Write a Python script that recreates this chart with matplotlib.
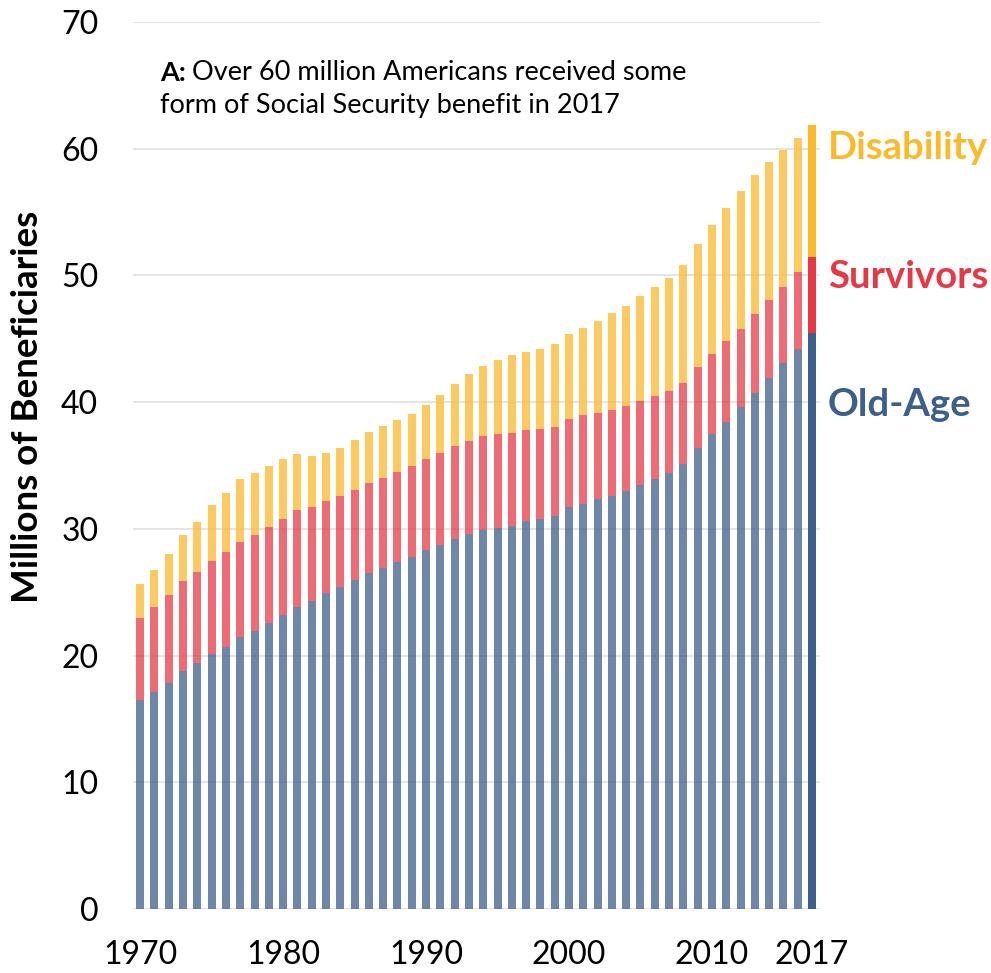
import matplotlib
matplotlib.use("Agg")
import matplotlib.pyplot as plt
import numpy as np

years = list(range(1970, 2018))

# Stacked tops (millions)
old_age = [16.5, 17.15, 17.8, 18.75, 19.4, 20.1, 20.65, 21.45, 21.95, 22.6,
           23.2, 23.8, 24.3, 24.9, 25.4, 25.95, 26.5, 26.95, 27.35, 27.8,
           28.3, 28.75, 29.2, 29.6, 29.9, 30.1, 30.25, 30.6, 30.75, 31.0,
           31.7, 32.0, 32.35, 32.6, 32.95, 33.45, 33.9, 34.4, 35.15, 36.35,
           37.45, 38.45, 39.6, 40.75, 41.9, 43.05, 44.2, 45.45]
surv_top = [23.0, 23.85, 24.75, 25.9, 26.6, 27.45, 28.2, 29.0, 29.55, 30.15,
            30.8, 31.45, 31.75, 32.2, 32.6, 33.1, 33.6, 34.05, 34.5, 34.95,
            35.5, 36.0, 36.55, 36.95, 37.3, 37.5, 37.6, 37.8, 37.85, 38.05,
            38.7, 38.95, 39.15, 39.4, 39.7, 40.1, 40.45, 40.9, 41.55, 42.8,
            43.8, 44.8, 45.8, 46.95, 48.05, 49.1, 50.25, 51.45]
dis_top = [25.65, 26.75, 28.05, 29.5, 30.55, 31.85, 32.8, 33.9, 34.4, 34.95,
           35.5, 35.9, 35.75, 36.0, 36.4, 37.0, 37.65, 38.15, 38.6, 39.1,
           39.8, 40.55, 41.45, 42.25, 42.85, 43.35, 43.7, 43.95, 44.2, 44.55,
           45.35, 45.85, 46.4, 47.0, 47.6, 48.4, 49.05, 49.8, 50.85, 52.5,
           54.0, 55.35, 56.7, 57.95, 58.95, 59.9, 60.85, 61.9]

survivors = [s - o for s, o in zip(surv_top, old_age)]
disability = [d - s for d, s in zip(dis_top, surv_top)]

series_names = ["Old-Age", "Survivors", "Disability"]
colors = ["#3d5f8c", "#e63946", "#fbb92c"]
xtick_labels = [1970, 1980, 1990, 2000, 2010, 2017]
yticks = [0, 10, 20, 30, 40, 50, 60, 70]

plt.rcParams['font.family'] = ['Lato', 'DejaVu Sans']

W, H = 991, 973
fig = plt.figure(figsize=(W / 100, H / 100), dpi=100)
ax = fig.add_axes([133 / W, 1 - 909 / H, (820 - 133) / W, (909 - 22) / H])

x = np.array(years)
n = len(years)
alphas = [0.75] * (n - 1) + [1.0]
bottom = np.zeros(n)
for vals, col in zip([old_age, survivors, disability], colors):
    vals = np.array(vals)
    for i in range(n):
        ax.bar(x[i], vals[i], bottom=bottom[i], width=0.56, color=col,
               alpha=alphas[i], linewidth=0, zorder=3)
    bottom = bottom + vals

ax.set_ylim(0, 70)
ax.set_xlim(1969.5, 2017.56)
ax.set_yticks(yticks)
ax.set_xticks(xtick_labels)
ax.set_xticklabels([str(v) for v in xtick_labels])
ax.grid(axis='y', color='#e3e3e3', linewidth=1.3, zorder=0)
ax.set_axisbelow(True)
for s in ax.spines.values():
    s.set_visible(False)
ax.tick_params(axis='both', length=0, labelsize=23, colors='black')
ax.tick_params(axis='y', pad=25)
ax.tick_params(axis='x', pad=22)

fig.text(28 / W, 1 - 407 / H, "Millions of Beneficiaries", rotation=90,
         fontsize=26.5, fontweight='bold', ha='center', va='center')

# annotation
fs_note = 19.5
ta = fig.text(160 / W, 1 - 73 / H, "A:", fontsize=fs_note, fontweight='bold',
              ha='left', va='center')
fig.canvas.draw()
bb = ta.get_window_extent(renderer=fig.canvas.get_renderer())
fig.text(bb.x1 / W + 6 / W, 1 - 73 / H, "Over 60 million Americans received some",
         fontsize=fs_note, ha='left', va='center')
fig.text(160 / W, 1 - 106 / H, "form of Social Security benefit in 2017",
         fontsize=fs_note, ha='left', va='center')

# right labels
label_y = [405, 277, 148]
for name, col, yy in zip(series_names, colors, label_y):
    fig.text(828 / W, 1 - yy / H, name, color=col, fontsize=27.5,
             fontweight='bold', ha='left', va='center')

fig.savefig("out.png", dpi=100)
